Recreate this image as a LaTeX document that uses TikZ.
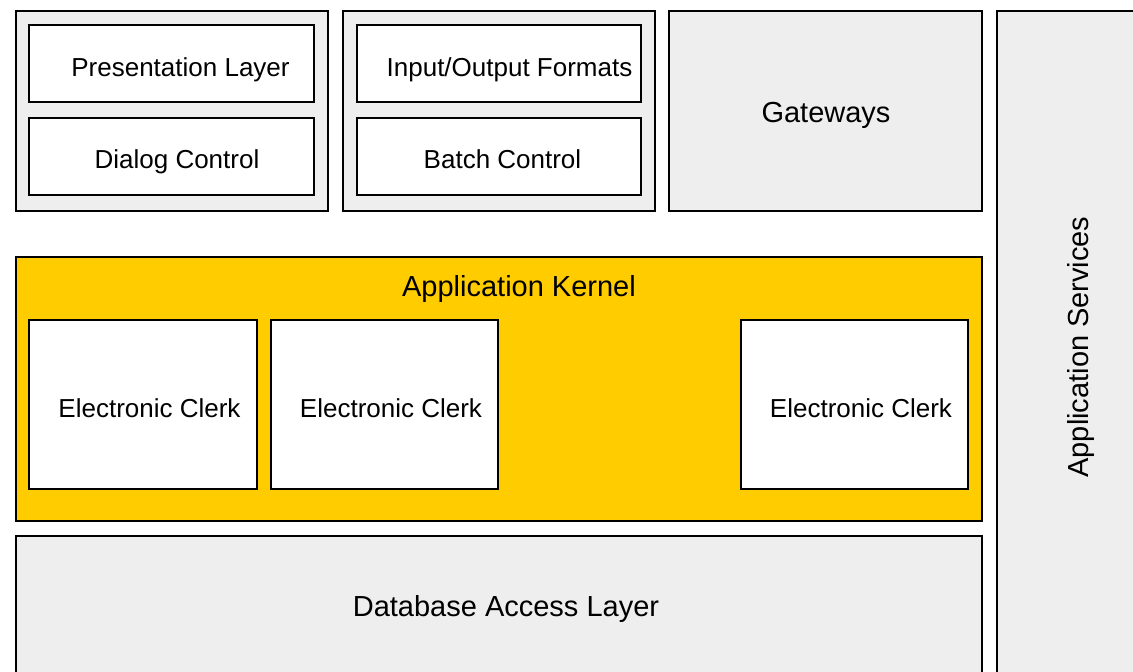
\documentclass[tikz,border=0pt]{standalone}
\usepackage{fontspec}
\setmainfont{Liberation Sans}
\usetikzlibrary{fit}
\definecolor{panelgrey}{HTML}{EEEEEE}
\definecolor{kernelyellow}{HTML}{FFCC00}
\tikzset{
  panel/.style={draw=black, line width=2pt, fill=panelgrey, inner sep=0pt, outer sep=0pt},
  module/.style={panel, fill=white},
  kernel/.style={panel, fill=kernelyellow},
  smalltxt/.style={anchor=base, inner sep=0pt, font=\fontsize{26pt}{30pt}\selectfont},
  bigtxt/.style={anchor=base, inner sep=0pt, font=\fontsize{29pt}{34pt}\selectfont}
}
\begin{document}
\begin{tikzpicture}[x=1pt,y=-1pt]
  \useasboundingbox (0,0) rectangle (1133,672);
  \clip (0,0) rectangle (1133,672);
  %top row
  \node[panel, fit={(15.5,10.5) (328,210.5)}] (grpui) {};
  \node[module, fit={(29,25) (314,102)}] (pres) {};
  \node[module, fit={(29,117.5) (314,194.5)}] (dialog) {};
  \node[panel, fit={(342.5,10.5) (655,210.5)}] (grpbatch) {};
  \node[module, fit={(356.5,25) (641,102)}] (iofmt) {};
  \node[module, fit={(356.5,117.5) (641,194.5)}] (batch) {};
  \node[panel, fit={(669,10.5) (982,210.5)}] (gateways) {};
  %right column
  \node[panel, fit={(997,10.5) (1150,690)}] (services) {};
  %kernel
  \node[kernel, fit={(15.5,257) (982,521)}] (kernel) {};
  \node[module, fit={(29,319.5) (256.5,489)}] (clerka) {};
  \node[module, fit={(271,319.5) (498,489)}] (clerkb) {};
  \node[module, fit={(741,319.5) (968,489)}] (clerkc) {};
  %database
  \node[panel, fit={(15.5,535.5) (982,690)}] (dbal) {};
  %texts
  \node[smalltxt] (presl) at (180.5,76.5) {Presentation Layer};
  \node[smalltxt] (dialogl) at (177,168.5) {Dialog Control};
  \node[smalltxt] (iofmtl) at (509.5,76.5) {Input/Output Formats};
  \node[smalltxt] (batchl) at (502.5,168.5) {Batch Control};
  \node[bigtxt] (gatewaysl) at (826,122) {Gateways};
  \node[bigtxt] (kernell) at (519,296.5) {Application Kernel};
  \node[smalltxt] (clerkal) at (149.5,417) {Electronic Clerk};
  \node[smalltxt] (clerkbl) at (391,417) {Electronic Clerk};
  \node[smalltxt] (clerkcl) at (861,417) {Electronic Clerk};
  \node[bigtxt] (dball) at (506,616.5) {Database Access Layer};
  \node[bigtxt, rotate=90] (servicesl) at (1088,347) {Application Services};
\end{tikzpicture}
\end{document}
